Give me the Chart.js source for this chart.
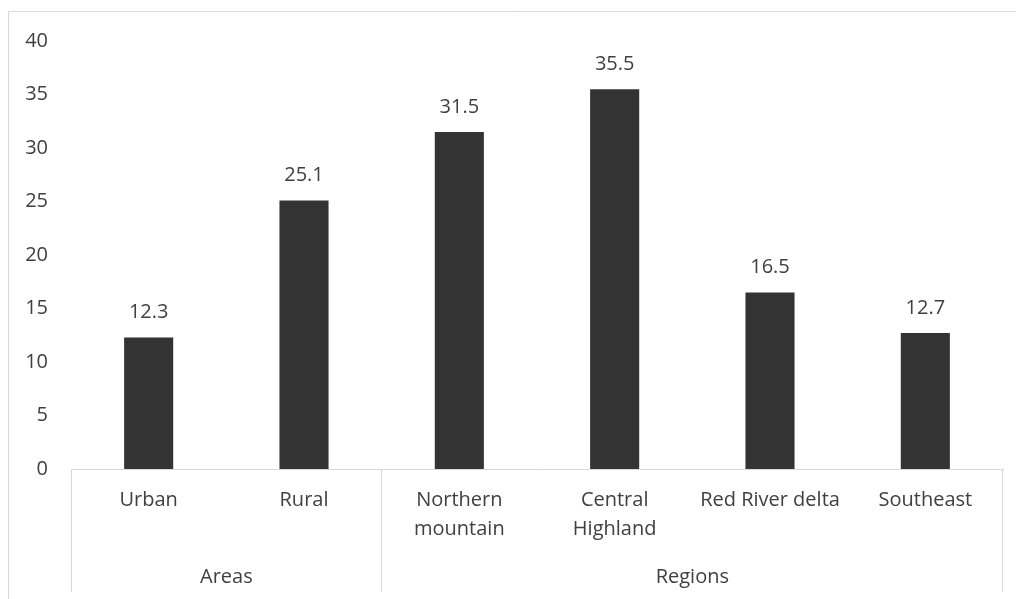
<!DOCTYPE html>
<html>
<head>
<meta charset="utf-8">
<script src="https://cdn.jsdelivr.net/npm/chart.js@4.4.1/dist/chart.umd.min.js"></script>
<style>
    html, body { margin: 0; padding: 0; background: #fff; }
    #wrap { position: relative; width: 1016px; height: 599px; }
</style>
</head>
<body>
<div id="wrap"><canvas id="povertyChart" width="1016" height="599"></canvas></div>
<script>
var categories = ['Urban', 'Rural', ['Northern', 'mountain'], ['Central', 'Highland'], 'Red River delta', 'Southeast'];
var rates = [12.3, 25.1, 31.5, 35.5, 16.5, 12.7];
var groupLabels = ['Areas', 'Regions'];
var groupSizes = [2, 4];
var yMax = 40;
var yStep = 5;

(function () {
    var FONT = '"Open Sans", sans-serif';
    var SIZE = 20;
    var TEXT = '#404040';
    var LINE = '#d9d9d9';

    // outer frame, group dividers, group names and value labels
    var decorations = {
        id: 'decorations',
        beforeDraw: function (chart) {
            var ctx = chart.ctx;
            ctx.save();
            ctx.strokeStyle = LINE;
            ctx.lineWidth = 1;
            ctx.beginPath();
            ctx.moveTo(8.5, chart.height);
            ctx.lineTo(8.5, 11.5);
            ctx.lineTo(chart.width, 11.5);
            ctx.stroke();
            ctx.restore();
        },
        afterDraw: function (chart) {
            var ctx = chart.ctx;
            var x = chart.scales.x;
            var top = chart.chartArea.bottom;
            var bottom = 592;

            ctx.save();
            ctx.strokeStyle = LINE;
            ctx.lineWidth = 1;
            ctx.fillStyle = TEXT;
            ctx.font = SIZE + 'px ' + FONT;
            ctx.textAlign = 'center';
            ctx.textBaseline = 'middle';

            var start = 0;
            var edges = [Math.round(x.getPixelForValue(-0.5)) + 0.5];
            groupLabels.forEach(function (name, g) {
                var end = start + groupSizes[g];
                var left = x.getPixelForValue(start - 0.5);
                var right = x.getPixelForValue(end - 0.5);
                edges.push(Math.round(right) - 0.5);
                ctx.fillText(name, (left + right) / 2, 577);
                start = end;
            });

            edges.forEach(function (px) {
                ctx.beginPath();
                ctx.moveTo(px, top);
                ctx.lineTo(px, bottom);
                ctx.stroke();
            });

            ctx.textBaseline = 'alphabetic';
            chart.getDatasetMeta(0).data.forEach(function (bar, i) {
                ctx.fillText(rates[i].toFixed(1), bar.x, bar.y - 19);
            });
            ctx.restore();
        }
    };

    new Chart(document.getElementById('povertyChart').getContext('2d'), {
        type: 'bar',
        data: {
            labels: categories,
            datasets: [{
                data: rates,
                backgroundColor: '#333333',
                borderWidth: 0,
                categoryPercentage: 1,
                barPercentage: 0.316
            }]
        },
        options: {
            responsive: false,
            animation: false,
            layout: { padding: { top: 41, right: 13, left: 0, bottom: 0 } },
            plugins: {
                legend: { display: false },
                tooltip: { enabled: false }
            },
            scales: {
                x: {
                    afterFit: function (scale) { scale.height = 130; },
                    grid: { display: false, drawTicks: false },
                    border: { display: true, color: LINE, width: 1 },
                    ticks: {
                        padding: 17,
                        maxRotation: 0,
                        autoSkip: false,
                        color: TEXT,
                        font: { size: SIZE, family: FONT, lineHeight: 1.45 }
                    }
                },
                y: {
                    min: 0,
                    max: yMax,
                    afterFit: function (scale) { scale.width = 71; },
                    grid: { display: false, drawTicks: false },
                    border: { display: false },
                    ticks: {
                        stepSize: yStep,
                        padding: 23,
                        color: TEXT,
                        font: { size: SIZE, family: FONT }
                    }
                }
            }
        },
        plugins: [decorations]
    });
})();
</script>
</body>
</html>
